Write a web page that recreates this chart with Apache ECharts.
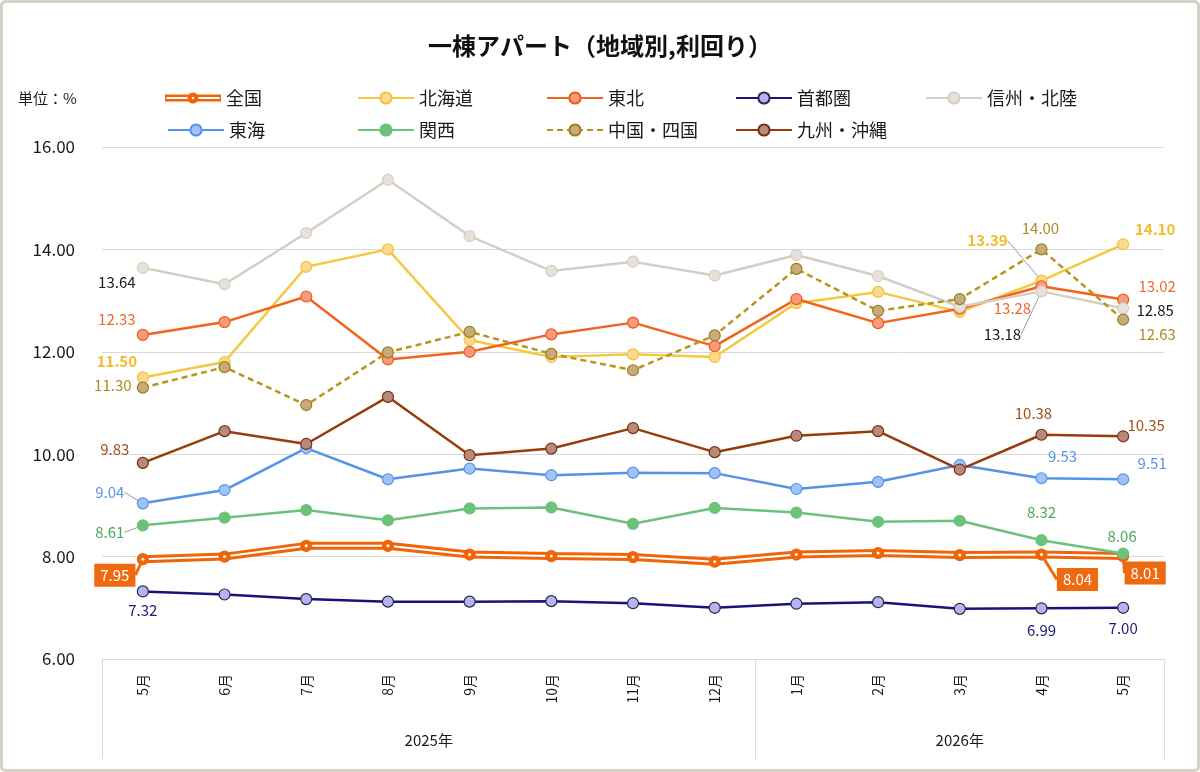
<!DOCTYPE html>
<html>
<head>
<meta charset="utf-8">
<script src="https://cdn.jsdelivr.net/npm/echarts@6/dist/echarts.min.js"></script>
<style>
  html, body { margin: 0; padding: 0; background: #fff; }
  #main { width: 1200px; height: 772px; }
</style>
</head>
<body>
<div id="main"></div>
<script>
// 月ラベル
const months = ["5月", "6月", "7月", "8月", "9月", "10月", "11月", "12月", "1月", "2月", "3月", "4月", "5月"];
const yearLabels = ["2025年", "2026年"];
const monthsPerYear = [8, 5];

// 利回り（%）
const zenkoku  = [7.95, 8.00, 8.21, 8.21, 8.04, 8.01, 7.99, 7.90, 8.04, 8.07, 8.03, 8.04, 8.01];
const hokkaido = [11.50, 11.80, 13.66, 14.00, 12.23, 11.90, 11.95, 11.90, 12.95, 13.17, 12.78, 13.39, 14.10];
const tohoku   = [12.33, 12.58, 13.08, 11.85, 12.00, 12.34, 12.57, 12.11, 13.03, 12.56, 12.84, 13.28, 13.02];
const shutoken = [7.32, 7.26, 7.17, 7.12, 7.12, 7.13, 7.09, 7.00, 7.08, 7.11, 6.98, 6.99, 7.00];
const shinshu  = [13.64, 13.32, 14.32, 15.36, 14.26, 13.58, 13.76, 13.49, 13.89, 13.48, 12.88, 13.18, 12.85];
const tokai    = [9.04, 9.30, 10.12, 9.51, 9.72, 9.59, 9.64, 9.63, 9.32, 9.46, 9.79, 9.53, 9.51];
const kansai   = [8.61, 8.76, 8.91, 8.71, 8.94, 8.96, 8.64, 8.95, 8.86, 8.68, 8.70, 8.32, 8.06];
const chugoku  = [11.30, 11.70, 10.96, 11.99, 12.39, 11.96, 11.64, 12.32, 13.62, 12.80, 13.03, 14.00, 12.63];
const kyushu   = [9.83, 10.45, 10.20, 11.12, 9.98, 10.11, 10.51, 10.04, 10.36, 10.45, 9.70, 10.38, 10.35];

const FONT = "'Noto Sans CJK JP', 'Noto Sans', sans-serif";

// series styles
const styles = {
  "全国":     { data: zenkoku,  line: "#f0640a", fill: "#f0640a", border: "#f0640a", text: "#fff", width: 8 },
  "北海道":   { data: hokkaido, line: "#f5c842", fill: "#fcd98c", border: "#f2c23c", text: "#f2bb2c", width: 2.5, bold: true },
  "東北":     { data: tohoku,   line: "#f0641c", fill: "#f89a7c", border: "#ee5c1a", text: "#f0682a", width: 2.5 },
  "首都圏":   { data: shutoken, line: "#16147a", fill: "#b6b2f6", border: "#2a2a3a", text: "#1c1a78", width: 2.5 },
  "信州・北陸": { data: shinshu, line: "#d3cfc3", fill: "#e7e1da", border: "#d3cfc3", text: "#1a1a1a", width: 2.5 },
  "東海":     { data: tokai,    line: "#5593e8", fill: "#a0c2f6", border: "#5593e8", text: "#5a95e6", width: 2.5 },
  "関西":     { data: kansai,   line: "#6cc27a", fill: "#6cc27a", border: "#6cc27a", text: "#4ea85a", width: 2.5 },
  "中国・四国": { data: chugoku, line: "#b8951a", fill: "#c9aa7a", border: "#9a8020", text: "#b08a20", width: 2.5, dashed: true },
  "九州・沖縄": { data: kyushu,  line: "#983c0a", fill: "#b98a7c", border: "#7a3010", text: "#a0501a", width: 2.5 }
};

// label offsets (text centre relative to the point), keyed by data index
const labelSpots = {
  "全国":     { 0: [-28, 16], 11: [36, 25], 12: [22, 17] },
  "北海道":   { 0: [-26, -16], 11: [-54, -40], 12: [32, -15] },
  "東北":     { 0: [-26, -16], 11: [-29, 22], 12: [34, -13] },
  "首都圏":   { 0: [0, 19], 11: [0, 22], 12: [0, 20] },
  "信州・北陸": { 0: [-26, 14], 11: [-39, 43], 12: [32, 2] },
  "東海":     { 0: [-33, -11], 11: [21, -22], 12: [29, -16] },
  "関西":     { 0: [-33, 7], 11: [0, -28], 12: [-1, -17] },
  "中国・四国": { 0: [-30, -2], 11: [-1, -21], 12: [34, 15] },
  "九州・沖縄": { 0: [-28, -14], 11: [-8, -21], 12: [23, -11] }
};
const leaderLines = { "北海道": [11], "信州・北陸": [11], "東海": [0], "関西": [0], "全国": [0, 11, 12] };

// double-line legend icon for 全国
const zenkokuIcon = "path://M0,3.5 H56 V10.5 H0 Z M1.5,6 V8 H54.5 V6 Z " +
  "M22.5,7 A5.5,5.5 0 1,1 33.5,7 A5.5,5.5 0 1,1 22.5,7 Z " +
  "M26.8,7 A1.2,1.2 0 1,0 29.2,7 A1.2,1.2 0 1,0 26.8,7 Z";

const names = Object.keys(styles);

function buildData(name) {
  const st = styles[name];
  const spots = labelSpots[name];
  return st.data.map((v, i) => {
    if (!spots[i]) return v;
    const lab = {
      show: true,
      position: "inside",
      offset: spots[i],
      align: "center",
      verticalAlign: "middle",
      color: st.text,
      fontSize: 15,
      fontFamily: FONT,
      fontWeight: st.bold ? "bold" : "normal",
      formatter: (p) => p.value.toFixed(2)
    };
    if (name === "全国") {
      lab.backgroundColor = "#ee6a10";
      lab.padding = [4, 6];
      lab.fontSize = 15;
    }
    const item = { value: v, label: lab };
    if ((leaderLines[name] || []).includes(i)) {
      item.labelLine = { show: true, lineStyle: { color: name === "全国" ? "#ee6a10" : "#9a9a9a", width: name === "全国" ? 3 : 1 } };
    }
    return item;
  });
}

const series = [];
names.forEach((name) => {
  const st = styles[name];
  series.push({
    name: name,
    type: "line",
    data: buildData(name),
    symbol: "circle",
    symbolSize: 11,
    lineStyle: { color: st.line, width: st.width, type: st.dashed ? [6, 4] : "solid" },
    itemStyle: { color: st.fill, borderColor: st.border, borderWidth: 1.2 },
    emphasis: { disabled: true },
    z: 2
  });
  if (name === "全国") {
    // white stripe inside the double line
    series.push({
      name: "全国_inner",
      type: "line",
      data: zenkoku,
      symbol: "circle",
      symbolSize: 3,
      lineStyle: { color: "#fff", width: 2 },
      itemStyle: { color: "#fff", borderWidth: 0 },
      silent: true,
      emphasis: { disabled: true },
      z: 2
    });
  }
});

// legend positions
const legendPos = [
  [160, 84], [352, 84], [541, 84], [730, 84], [920, 84],
  [162, 116], [352, 116], [541, 116], [730, 116]
];
const legends = names.map((name, i) => {
  const lg = {
    data: [name],
    left: legendPos[i][0],
    top: legendPos[i][1],
    itemWidth: 56,
    itemHeight: 14,
    itemGap: 0,
    textStyle: { fontSize: 18, color: "#1a1a1a", fontFamily: FONT },
    selectedMode: false
  };
  if (name === "全国") {
    lg.data = [{ name: name, icon: zenkokuIcon }];
    lg.itemStyle = { color: "#f0640a", borderWidth: 0 };
  }
  return lg;
});

// year axis helpers
const yearTicks = [-0.5];
const yearCenters = [];
let acc = -0.5;
monthsPerYear.forEach((n) => {
  yearCenters.push(acc + n / 2);
  acc += n;
  yearTicks.push(acc);
});

const chart = echarts.init(document.getElementById("main"));
chart.setOption({
  animation: false,
  backgroundColor: "#fff",
  textStyle: { fontFamily: FONT },
  title: {
    text: "一棟アパート（地域別,利回り）",
    left: "center",
    top: 29,
    textStyle: { fontSize: 24, fontWeight: "bold", color: "#111", fontFamily: FONT }
  },
  graphic: [
    {
      type: "rect",
      shape: { x: 1.5, y: 1.5, width: 1197, height: 769, r: 4 },
      style: { fill: "none", stroke: "#d5d1c7", lineWidth: 3 },
      silent: true
    },
    {
      type: "text",
      left: 18,
      top: 91,
      style: { text: "単位：%", fontSize: 15, fill: "#1a1a1a", fontFamily: FONT },
      silent: true
    }
  ],
  legend: legends,
  grid: { left: 102, right: 36, top: 147, bottom: 113 },
  xAxis: [
    {
      type: "category",
      data: months,
      boundaryGap: true,
      axisLine: { show: true, lineStyle: { color: "#d9d9d9", width: 1 } },
      axisTick: { show: false },
      axisLabel: { rotate: 90, margin: 15, fontSize: 14, color: "#1a1a1a", fontFamily: FONT }
    },
    {
      type: "value",
      position: "bottom",
      min: -0.5,
      max: months.length - 0.5,
      axisLine: { show: false },
      splitLine: { show: false },
      axisTick: {
        show: true,
        customValues: yearTicks,
        length: 100,
        lineStyle: { color: "#d9d9d9", width: 1 }
      },
      axisLabel: {
        customValues: yearCenters,
        margin: 74,
        fontSize: 15,
        color: "#1a1a1a",
        fontFamily: FONT,
        formatter: (v) => yearLabels[yearCenters.indexOf(v)] || ""
      }
    }
  ],
  yAxis: {
    type: "value",
    min: 6,
    max: 16,
    interval: 2,
    axisLine: { show: false },
    axisTick: { show: false },
    splitLine: { lineStyle: { color: "#d9d9d9", width: 1 } },
    axisLabel: {
      margin: 27,
      fontSize: 17,
      color: "#1a1a1a",
      fontFamily: FONT,
      formatter: (v) => v.toFixed(2)
    }
  },
  series: series
});
</script>
</body>
</html>
